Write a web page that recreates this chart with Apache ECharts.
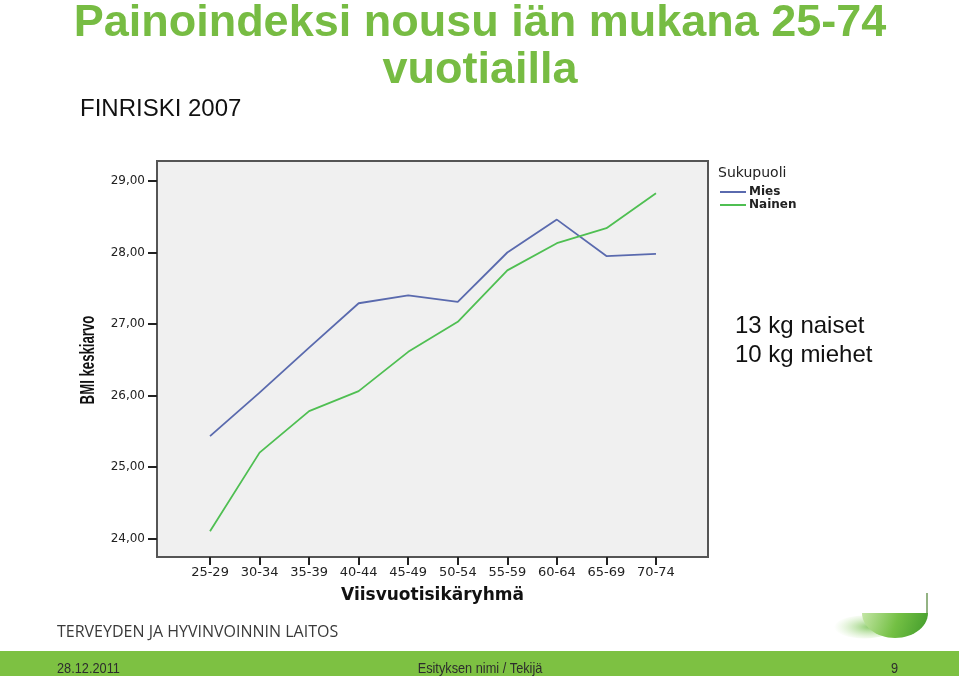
<!DOCTYPE html>
<html>
<head>
<meta charset="utf-8">
<script src="https://cdn.jsdelivr.net/npm/echarts@6/dist/echarts.min.js"></script>
<style>
html,body{margin:0;padding:0;background:#fff;}
#c{width:959px;height:676px;}
</style>
</head>
<body>
<div id="c"></div>
<script>
var ageGroups = ['25-29','30-34','35-39','40-44','45-49','50-54','55-59','60-64','65-69','70-74'];
var miesBMI   = [25.43, 26.04, 26.67, 27.29, 27.40, 27.31, 28.00, 28.46, 27.95, 27.98];
var nainenBMI = [24.10, 25.20, 25.78, 26.06, 26.61, 27.03, 27.75, 28.13, 28.34, 28.83];
var yTicks = [24, 25, 26, 27, 28, 29];
var xTickIdx = [0,1,2,3,4,5,6,7,8,9];

var chart = echarts.init(document.getElementById('c'), null, {renderer:'canvas'});

function pairs(arr){ return arr.map(function(v,i){ return [i, v]; }); }

// decorative logo bowl outline (half ellipse)
var bowlPts = [];
for (var k = 0; k <= 30; k++) {
  var t = Math.PI * k / 30;
  bowlPts.push([895 + 33 * Math.cos(t), 613 + 25 * Math.sin(t)]);
}

var green = '#77bc43';

chart.setOption({
  animation: false,
  backgroundColor: '#ffffff',
  title: [
    { text: 'Painoindeksi nousu iän mukana 25-74\nvuotiailla', left: 480, top: 0, padding: 0, textAlign: 'center',
      textStyle: { fontFamily: 'Liberation Sans, Arial, sans-serif', fontWeight: 'bold', fontSize: 45, color: green, lineHeight: 47 } },
    { text: 'FINRISKI 2007', left: 80, top: 97, padding: 0,
      textStyle: { fontFamily: 'Liberation Sans, Arial, sans-serif', fontWeight: 'normal', fontSize: 24, color: '#111' } },
    { text: '13 kg naiset\n10 kg miehet', left: 735, top: 312, padding: 0,
      textStyle: { fontFamily: 'Liberation Sans, Arial, sans-serif', fontWeight: 'normal', fontSize: 24, color: '#111', lineHeight: 29 } },
    { text: 'Sukupuoli', left: 718, top: 166, padding: 0,
      textStyle: { fontFamily: 'DejaVu Sans, sans-serif', fontWeight: 'normal', fontSize: 14, color: '#222', letterSpacing: 1.6 } }
  ],
  legend: {
    orient: 'vertical', left: 720, top: 186, padding: 0, itemWidth: 26, itemHeight: 2, itemGap: 1,
    icon: 'rect',
    textStyle: { fontFamily: 'DejaVu Sans, sans-serif', fontSize: 12, fontWeight: 'bold', color: '#222', padding: [0,0,0,-2] },
    data: ['Mies', 'Nainen']
  },
  grid: {
    left: 157, top: 161, width: 551, height: 396,
    show: true, backgroundColor: '#f0f0f0', borderColor: '#555', borderWidth: 2
  },
  xAxis: {
    type: 'value', min: -1.07, max: 10.05,
    splitLine: { show: false },
    axisLine: { show: false, onZero: false },
    axisTick: { show: true, length: 8, customValues: xTickIdx, lineStyle: { color: '#222', width: 2 } },
    axisLabel: { customValues: xTickIdx, margin: 9, fontFamily: 'DejaVu Sans, sans-serif', fontSize: 13, color: '#222',
      formatter: function(v){ return ageGroups[Math.round(v)]; } },
    name: 'Viisvuotisikäryhmä', nameLocation: 'middle', nameGap: 30,
    nameTextStyle: { fontFamily: 'DejaVu Sans, sans-serif', fontWeight: 'bold', fontSize: 17, color: '#111' }
  },
  yAxis: {
    type: 'value', min: 23.74, max: 29.28,
    splitLine: { show: false },
    axisLine: { show: false, onZero: false },
    axisTick: { show: true, length: 9, customValues: yTicks, lineStyle: { color: '#222', width: 2 } },
    axisLabel: { customValues: yTicks, margin: 12, fontFamily: 'DejaVu Sans, sans-serif', fontSize: 12, color: '#222',
      formatter: function(v){ return v.toFixed(2).replace('.', ','); } }
  },
  series: [
    { name: 'Mies', type: 'line', data: pairs(miesBMI), symbol: 'none', color: '#5a6aae',
      lineStyle: { width: 1.8, color: '#5a6aae' } },
    { name: 'Nainen', type: 'line', data: pairs(nainenBMI), symbol: 'none', color: '#4fbf52',
      lineStyle: { width: 1.8, color: '#4fbf52' } }
  ],
  graphic: [
    { type: 'text', x: 88, y: 360, rotation: Math.PI / 2, scaleX: 0.66,
      style: { text: 'BMI keskiarvo', textAlign: 'center', textVerticalAlign: 'middle', fontFamily: 'Liberation Sans, Arial, sans-serif', fontWeight: 'bold', fontSize: 20, fill: '#111' } },
    { type: 'rect', x: 0, y: 651, shape: { x: 0, y: 0, width: 959, height: 25 }, style: { fill: '#7dc142' }, silent: true },
    { type: 'text', x: 57, y: 624, style: { text: 'TERVEYDEN JA HYVINVOINNIN LAITOS', fontFamily: 'Open Sans, sans-serif', fontSize: 16, fill: '#3a3a3a', letterSpacing: 1.5 } },
    { type: 'text', x: 57, y: 661, scaleX: 0.85, style: { text: '28.12.2011', fontFamily: 'Liberation Sans, Arial, sans-serif', fontSize: 15, fill: '#2d2d2d' } },
    { type: 'text', x: 480, y: 661, scaleX: 0.85, style: { text: 'Esityksen nimi / Tekijä', textAlign: 'center', fontFamily: 'Liberation Sans, Arial, sans-serif', fontSize: 15, fill: '#2d2d2d' } },
    { type: 'text', x: 891, y: 661, scaleX: 0.85, style: { text: '9', fontFamily: 'Liberation Sans, Arial, sans-serif', fontSize: 15, fill: '#2d2d2d' } },
    { type: 'circle', x: 864, y: 627, scaleY: 0.38, shape: { cx: 0, cy: 0, r: 30 },
      style: { fill: { type: 'radial', x: 0.6, y: 0.5, r: 0.6, colorStops: [{offset: 0, color: 'rgba(110,190,70,0.8)'}, {offset: 1, color: 'rgba(180,225,150,0)'}] } }, silent: true },
    { type: 'polygon', shape: { points: bowlPts },
      style: { fill: { type: 'linear', x: 0, y: 0, x2: 1, y2: 1, colorStops: [{offset: 0, color: '#c4e6a6'}, {offset: 0.5, color: '#74c044'}, {offset: 1, color: '#3f9a2a'}] } }, silent: true },
    { type: 'line', shape: { x1: 927, y1: 593, x2: 927, y2: 613 }, style: { stroke: '#6f9a5a', lineWidth: 1.5 }, silent: true }
  ]
});
</script>
</body>
</html>
